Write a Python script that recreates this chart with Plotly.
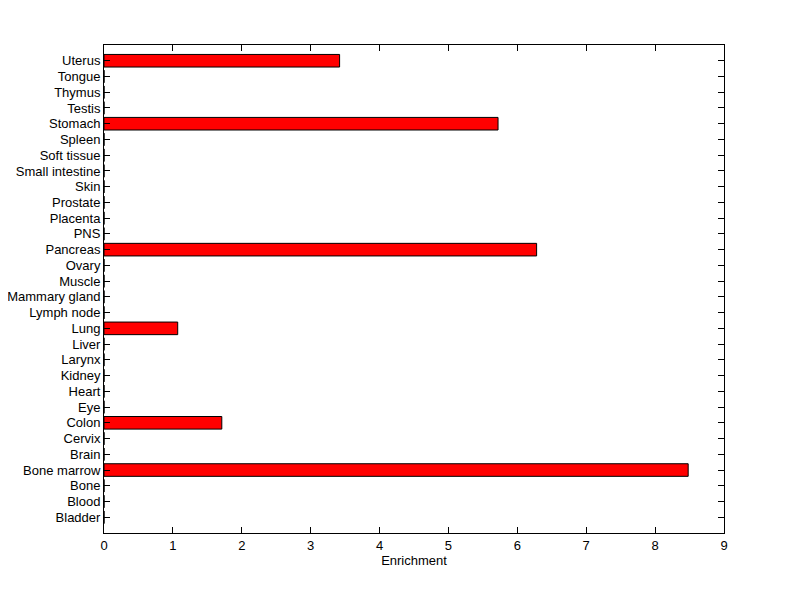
import plotly.graph_objects as go

tissues = ["Bladder", "Blood", "Bone", "Bone marrow", "Brain", "Cervix", "Colon", "Eye",
           "Heart", "Kidney", "Larynx", "Liver", "Lung", "Lymph node", "Mammary gland",
           "Muscle", "Ovary", "Pancreas", "PNS", "Placenta", "Prostate", "Skin",
           "Small intestine", "Soft tissue", "Spleen", "Stomach", "Testis", "Thymus",
           "Tongue", "Uterus"]
enrichment = [0, 0, 0, 8.48, 0, 0, 1.71, 0,
              0, 0, 0, 0, 1.07, 0, 0,
              0, 0, 6.28, 0, 0, 0, 0,
              0, 0, 0, 5.72, 0, 0,
              0, 3.42]
x_ticks = [0, 1, 2, 3, 4, 5, 6, 7, 8, 9]

yidx = list(range(len(tissues)))

fig = go.Figure()
fig.add_trace(go.Bar(
    x=enrichment, y=yidx, orientation="h", width=0.8,
    marker=dict(color="#ff0000", line=dict(color="black", width=1)),
    showlegend=False,
))

font = dict(family="Liberation Sans, Arial, sans-serif", size=13, color="black")
fig.update_layout(
    width=800, height=599,
    margin=dict(l=96, r=84, t=37, b=74),
    paper_bgcolor="white", plot_bgcolor="white",
    font=font,
)
fig.update_xaxes(
    range=[0, 9], tickvals=x_ticks, ticks="inside", ticklen=6, tickcolor="black",
    showline=True, linecolor="black", linewidth=1, mirror="ticks",
    showgrid=False, zeroline=False, automargin=False,
    title=dict(text="Enrichment", font=font, standoff=3),
)
fig.update_yaxes(
    range=[-1, len(tissues)], tickvals=yidx, ticktext=tissues,
    ticks="inside", ticklen=6, tickcolor="black",
    showline=True, linecolor="black", linewidth=1, mirror="ticks",
    showgrid=False, zeroline=False, automargin=False,
)

fig.write_html("out.html")
